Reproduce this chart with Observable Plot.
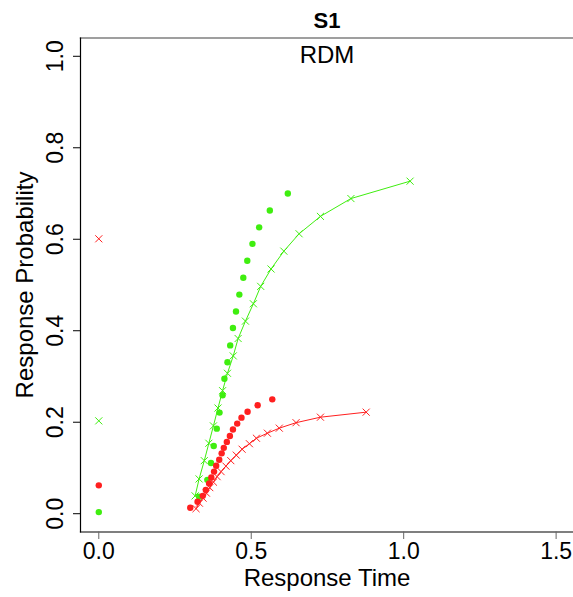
<!DOCTYPE html>
<html>
<head>
<meta charset="utf-8">
<script src="https://cdn.jsdelivr.net/npm/d3@7"></script>
<script src="https://cdn.jsdelivr.net/npm/@observablehq/plot@0.6"></script>
<style>
  html, body { margin: 0; padding: 0; background: #fff; overflow: hidden; }
  svg { display: block; }
</style>
</head>
<body>
<div id="chart"></div>
<script>
const title = "S1";
const subtitle = "RDM";
const xLabel = "Response Time";
const yLabel = "Response Probability";
const xTicks = [0, 0.5, 1.0, 1.5];
const yTicks = [0, 0.2, 0.4, 0.6, 0.8, 1.0];

// observed (dots) and predicted (crosses + line) defective quantiles
const greenObsRT = [0.329,0.356,0.368,0.377,0.387,0.396,0.406,0.412,0.422,0.431,0.440,0.450,0.461,0.474,0.487,0.504,0.526,0.561,0.620];
const greenObsP  = [0.037,0.074,0.111,0.148,0.186,0.221,0.259,0.295,0.331,0.368,0.406,0.442,0.479,0.516,0.553,0.590,0.626,0.663,0.700];
const greenPredRT = [0.316,0.329,0.346,0.361,0.376,0.391,0.406,0.422,0.441,0.457,0.481,0.507,0.531,0.565,0.607,0.657,0.727,0.827,1.021];
const greenPredP  = [0.039,0.076,0.116,0.154,0.192,0.231,0.269,0.307,0.345,0.383,0.421,0.459,0.497,0.535,0.574,0.612,0.650,0.689,0.727];
const redObsRT = [0.300,0.324,0.341,0.351,0.362,0.369,0.378,0.385,0.395,0.403,0.410,0.420,0.430,0.440,0.454,0.468,0.488,0.521,0.569];
const redObsP  = [0.013,0.026,0.039,0.052,0.066,0.079,0.092,0.105,0.118,0.132,0.144,0.157,0.170,0.184,0.197,0.210,0.223,0.237,0.250];
const redPredRT = [0.319,0.330,0.342,0.353,0.364,0.376,0.388,0.401,0.417,0.433,0.451,0.470,0.494,0.517,0.553,0.592,0.647,0.727,0.877];
const redPredP  = [0.011,0.023,0.034,0.045,0.057,0.069,0.081,0.092,0.104,0.116,0.128,0.141,0.153,0.165,0.176,0.187,0.199,0.211,0.222];

// points at RT = 0
const zeroObs  = { green: 0.0035, red: 0.062 };
const zeroPred = { green: 0.203, red: 0.601 };

const GREEN = "#3fee0f";
const RED = "#ff1f1f";
const FONT = "'Liberation Sans', Arial, Helvetica, sans-serif";

const zip = (xs, ys) => xs.map((x, i) => ({ rt: x, p: ys[i] }));
const greenObs = zip(greenObsRT, greenObsP);
const greenPred = zip(greenPredRT, greenPredP);
const redObs = zip(redObsRT, redObsP);
const redPred = zip(redPredRT, redPredP);

const xDomain = [-0.06, 1.557];
const yDomain = [-0.04, 1.04];

const chart = Plot.plot({
  width: 573,
  height: 597,
  marginLeft: 80,
  marginRight: 0,
  marginTop: 37.5,
  marginBottom: 65.5,
  style: { fontFamily: FONT, fontSize: "23px", background: "#fff", color: "#000" },
  x: { domain: xDomain, ticks: xTicks },
  y: { domain: yDomain, ticks: yTicks },
  marks: [
    Plot.frame({ anchor: "top", stroke: "#7f7f7f", strokeWidth: 1.5 }),
    Plot.frame({ anchor: "left", stroke: "#000", strokeWidth: 1.2 }),
    Plot.frame({ anchor: "bottom", stroke: "#000", strokeWidth: 1.2 }),
    Plot.axisX({ ticks: xTicks, tickFormat: d3.format(".1f"), tickSize: 7.5, tickPadding: 3, fontSize: 23, label: null, stroke: "#666" }),
    Plot.axisY({ ticks: yTicks, tickFormat: d3.format(".1f"), tickSize: 7, tickPadding: 11, tickRotate: -90, fontSize: 23, label: null }),
    Plot.line(greenPred, { x: "rt", y: "p", stroke: GREEN, strokeWidth: 1 }),
    Plot.dot(greenPred, { x: "rt", y: "p", symbol: "times", r: 3.3, stroke: GREEN, strokeWidth: 1 }),
    Plot.line(redPred, { x: "rt", y: "p", stroke: RED, strokeWidth: 1 }),
    Plot.dot(redPred, { x: "rt", y: "p", symbol: "times", r: 3.3, stroke: RED, strokeWidth: 1 }),
    Plot.dot(greenObs, { x: "rt", y: "p", r: 3.2, fill: GREEN }),
    Plot.dot(redObs, { x: "rt", y: "p", r: 3.2, fill: RED }),
    Plot.dot([{ rt: 0, p: zeroPred.red, c: RED }, { rt: 0, p: zeroPred.green, c: GREEN }],
      { x: "rt", y: "p", symbol: "times", r: 3.3, stroke: "c", strokeWidth: 1 }),
    Plot.dot([{ rt: 0, p: zeroObs.red, c: RED }, { rt: 0, p: zeroObs.green, c: GREEN }],
      { x: "rt", y: "p", r: 3.2, fill: "c" }),
    Plot.text([title], { frameAnchor: "top", lineAnchor: "middle", dy: -17.5, fontSize: 22, fontWeight: "bold", fill: "#000" }),
    Plot.text([subtitle], { frameAnchor: "top", lineAnchor: "middle", dy: 17.5, fontSize: 24, fill: "#000" }),
    Plot.text([xLabel], { frameAnchor: "bottom", lineAnchor: "middle", dy: 46.5, fontSize: 24, fill: "#000" }),
    Plot.text([yLabel], { frameAnchor: "left", textAnchor: "middle", lineAnchor: "middle", dx: -55, rotate: -90, fontSize: 24, fill: "#000" })
  ]
});
document.getElementById("chart").appendChild(chart);
</script>
</body>
</html>
